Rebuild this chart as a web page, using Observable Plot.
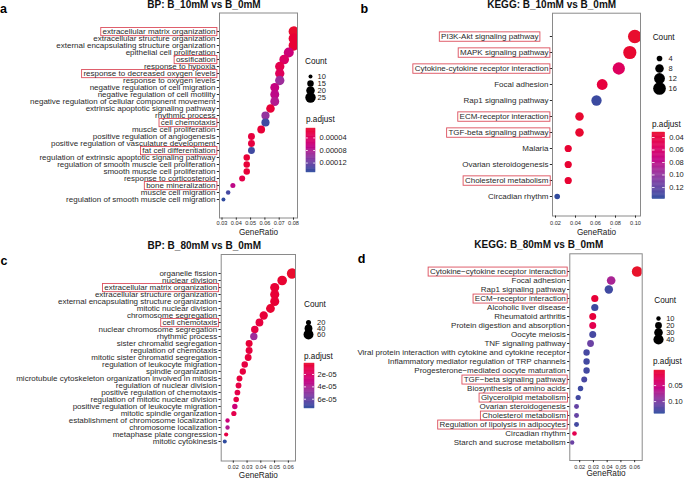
<!DOCTYPE html>
<html><head><meta charset="utf-8">
<script src="https://cdn.jsdelivr.net/npm/d3@7"></script>
<script src="https://cdn.jsdelivr.net/npm/@observablehq/plot@0.6"></script>
<style>
html,body{margin:0;padding:0;background:#fff;}
#fig{position:relative;width:685px;height:480px;overflow:hidden;font-family:"Liberation Sans",Arial,Helvetica,sans-serif;color:#111;background:#fff;}
.t{position:absolute;white-space:nowrap;line-height:1;}
</style></head><body><div id="fig"></div><script>
// ================= DATA =================
// Panel a: BP B_10mM vs B_0mM
const aTitle = "BP: B_10mM vs B_0mM";
const aTerms = ["extracellular matrix organization","extracellular structure organization","external encapsulating structure organization","epithelial cell proliferation","ossification","response to hypoxia","response to decreased oxygen levels","response to oxygen levels","negative regulation of cell migration","negative regulation of cell motility","negative regulation of cellular component movement","extrinsic apoptotic signaling pathway","rhythmic process","cell chemotaxis","muscle cell proliferation","positive regulation of angiogenesis","positive regulation of vasculature development","fat cell differentiation","regulation of extrinsic apoptotic signaling pathway","regulation of smooth muscle cell proliferation","smooth muscle cell proliferation","response to corticosteroid","bone mineralization","muscle cell migration","regulation of smooth muscle cell migration"];
const aRatio = [0.0802,0.0802,0.0802,0.0767,0.0735,0.0704,0.0704,0.0704,0.0669,0.0669,0.0669,0.0639,0.0604,0.0604,0.0574,0.0506,0.0506,0.0506,0.0473,0.0473,0.0473,0.0441,0.0376,0.0343,0.0310];
const aCount = [25,25,25,24,23,22,22,22,21,21,21,20,19,19,18,16,16,16,15,15,15,14,12,11,10];
const aPadj = [1.2e-5,1.5e-5,1.5e-5,6.0e-5,4.5e-5,3.0e-5,3.8e-5,9.4e-5,6.6e-5,7.3e-5,8.0e-5,1.7e-5,1.0e-4,1.43e-4,1.7e-5,2.1e-5,2.1e-5,1.43e-4,1.7e-5,1.7e-5,1.8e-5,2.7e-5,7.3e-5,1.4e-4,1.5e-4];
const aBoxed = ["extracellular matrix organization","ossification","response to decreased oxygen levels","cell chemotaxis","fat cell differentiation","bone mineralization"];
const aXTicks = [0.03,0.04,0.05,0.06,0.07,0.08];
const aSizeBreaks = [10,15,20,25];
const aColorBreaks = [4e-5,8e-5,1.2e-4];
const aColorLabels = ["0.00004","0.00008","0.00012"];

// Panel b: KEGG B_10mM vs B_0mM
const bTitle = "KEGG: B_10mM vs B_0mM";
const bTerms = ["PI3K-Akt signaling pathway","MAPK signaling pathway","Cytokine-cytokine receptor interaction","Focal adhesion","Rap1 signaling pathway","ECM-receptor interaction","TGF-beta signaling pathway","Malaria","Ovarian steroidogenesis","Cholesterol metabolism","Circadian rhythm"];
const bRatio = [0.0993,0.0943,0.0833,0.0667,0.0610,0.0440,0.0440,0.0327,0.0327,0.0327,0.0217];
const bCount = [18,17,15,12,11,8,8,6,6,6,4];
const bPadj = [0.033,0.034,0.055,0.040,0.135,0.034,0.034,0.035,0.035,0.035,0.138];
const bBoxed = ["PI3K-Akt signaling pathway","MAPK signaling pathway","Cytokine-cytokine receptor interaction","ECM-receptor interaction","TGF-beta signaling pathway","Cholesterol metabolism"];
const bXTicks = [0.02,0.04,0.06,0.08,0.10];
const bSizeBreaks = [4,8,12,16];
const bColorBreaks = [0.04,0.06,0.08,0.10,0.12];
const bColorLabels = ["0.04","0.06","0.08","0.10","0.12"];

// Panel c: BP B_80mM vs B_0mM
const cTitle = "BP: B_80mM vs B_0mM";
const cTerms = ["organelle fission","nuclear division","extracellular matrix organization","extracellular structure organization","external encapsulating structure organization","mitotic nuclear division","chromosome segregation","cell chemotaxis","nuclear chromosome segregation","rhythmic process","sister chromatid segregation","regulation of chemotaxis","mitotic sister chromatid segregation","regulation of leukocyte migration","spindle organization","microtubule cytoskeleton organization involved in mitosis","regulation of nuclear division","positive regulation of chemotaxis","regulation of mitotic nuclear division","positive regulation of leukocyte migration","mitotic spindle organization","establishment of chromosome localization","chromosome localization","metaphase plate congression","mitotic cytokinesis"];
const cRatio = [0.0627,0.0555,0.0501,0.0501,0.0501,0.0470,0.0421,0.0390,0.0356,0.0349,0.0315,0.0315,0.0308,0.0283,0.0269,0.0245,0.0238,0.0230,0.0221,0.0211,0.0204,0.0158,0.0158,0.0148,0.0138];
const cCount = [65,57,52,52,52,49,44,40,37,36,33,33,32,29,28,25,25,24,23,22,21,16,16,15,14];
const cPadj = [3e-6,4e-6,5e-6,5e-6,5e-6,4e-6,6e-6,8e-6,9e-6,4.6e-5,6e-6,8e-6,7e-6,9e-6,8e-6,7e-6,1e-5,1.1e-5,1e-5,2.8e-5,1.2e-5,2.8e-5,3.9e-5,9.5e-6,7.5e-5];
const cBoxed = ["extracellular matrix organization","cell chemotaxis"];
const cXTicks = [0.02,0.03,0.04,0.05,0.06];
const cSizeBreaks = [20,40,60];
const cColorBreaks = [2e-5,4e-5,6e-5];
const cColorLabels = ["2e-05","4e-05","6e-05"];

// Panel d: KEGG B_80mM vs B_0mM
const dTitle = "KEGG: B_80mM vs B_0mM";
const dTerms = ["Cytokine\u2212cytokine receptor interaction","Focal adhesion","Rap1 signaling pathway","ECM\u2212receptor interaction","Alcoholic liver disease","Rheumatoid arthritis","Protein digestion and absorption","Oocyte meiosis","TNF signaling pathway","Viral protein interaction with cytokine and cytokine receptor","Inflammatory mediator regulation of TRP channels","Progesterone\u2212mediated oocyte maturation","TGF\u2212beta signaling pathway","Biosynthesis of amino acids","Glycerolipid metabolism","Ovarian steroidogenesis","Cholesterol metabolism","Regulation of lipolysis in adipocytes","Circadian rhythm","Starch and sucrose metabolism"];
const dRatio = [0.0618,0.0429,0.0412,0.0310,0.0310,0.0295,0.0295,0.0295,0.0279,0.0250,0.0250,0.0250,0.0233,0.0206,0.0189,0.0177,0.0177,0.0177,0.0162,0.0145];
const dCount = [43,30,29,22,22,21,21,21,20,18,18,18,16,14,13,12,12,12,11,10];
const dPadj = [0.003,0.077,0.131,0.010,0.132,0.012,0.023,0.128,0.111,0.128,0.130,0.130,0.127,0.132,0.130,0.114,0.114,0.130,0.023,0.111];
const dBoxed = ["Cytokine\u2212cytokine receptor interaction","ECM\u2212receptor interaction","TGF\u2212beta signaling pathway","Glycerolipid metabolism","Cholesterol metabolism","Regulation of lipolysis in adipocytes"];
const dXTicks = [0.02,0.03,0.04,0.05,0.06];
const dSizeBreaks = [10,20,30,40];
const dColorBreaks = [0.05,0.10];
const dColorLabels = ["0.05","0.10"];

// ================= LAYOUT / STYLE =================
const FONT = '"Liberation Sans", Arial, Helvetica, sans-serif';
const RED = "#E8132B", BLUE = "#2F4B9E";
const BOX = "#DC4E5C";

const LA = {letter:"a", plot:{left:0,top:0,w:300,h:240}, frame:[219,12.5,297,217.5], rows:[16.7,213.3],
  xDomain:[0.02825,0.0828], rDomain:[10,25], rRange:[2,5.2], cDomain:[1.0e-5,1.5e-4], tickPad:1.2, genY:232,
  title:[204,4.8], letterPos:[3.5,8.5], count:{x:305,y:62,dotX:310,rows:[71.7,100.7],labX:317},
  padj:{x:306,y:120,bar:[306,128,315,172],labX:319}, boxH:8.2};
const LB = {letter:"b", plot:{left:390,top:0,w:255,h:240}, frame:[552,12.7,640,215.5], rows:[23,208.5],
  xDomain:[0.017,0.105], rDomain:[4,18], rRange:[2.8,6.8], cDomain:[0.032,0.1386], tickPad:2.5, genY:232,
  title:[551.7,4.8], letterPos:[364.3,8.5], count:{x:652.7,y:37.7,dotX:659,rows:[51.7,94.3],labX:668},
  padj:{x:652,y:125,bar:[652.3,131.7,665,198.3],labX:669}, boxH:9.4, shift:{"PI3K-Akt signaling pathway":-10}};
const LC = {letter:"c", plot:{left:0,top:240,w:300,h:240}, frame:[220.7,254,295,460.5], rows:[258.3,456],
  xDomain:[0.0112,0.0652], rDomain:[14,65], rRange:[2,5.2], cDomain:[2.2e-6,7.5e-5], tickPad:2.3, genY:475.3,
  title:[204.3,246.2], letterPos:[4,260.7], count:{x:304,y:305,dotX:308,rows:[319,337.7],labX:316.5},
  padj:{x:304,y:357.3,bar:[304,363.3,314,408.3],labX:317}, boxH:8.2};
const LD = {letter:"d", plot:{left:340,top:240,w:305,h:240}, frame:[569.3,253.3,641.7,460], rows:[259.3,453.7],
  xDomain:[0.0128,0.0655], rDomain:[10,43], rRange:[2.2,5.3], cDomain:[0.003,0.138], tickPad:2.8, genY:473.3,
  title:[538.8,244.8], letterPos:[361.7,259.3], count:{x:654.3,y:301,dotX:658.3,rows:[312.7,342.7],labX:666},
  padj:{x:653,y:362.3,bar:[654.3,370,665,413.3],labX:668}, boxH:9};

// ================= DRAWING =================
const fig = document.getElementById("fig");

function place(el, left, top) {
  el.style.position = "absolute";
  el.style.left = left + "px";
  el.style.top = top + "px";
  el.style.overflow = "visible";
  el.style.background = "transparent";
  el.style.maxWidth = "none";
  fig.appendChild(el);
  return el;
}

function label(str, x, y, size, opts = {}) {
  const d = document.createElement("div");
  d.className = "t";
  d.textContent = str;
  d.style.left = x + "px";
  d.style.top = y + "px";
  d.style.fontSize = size + "px";
  d.style.fontWeight = opts.bold ? "bold" : "normal";
  d.style.transform = opts.center ? "translate(-50%,-50%)" : "translate(0,-50%)";
  d.style.color = opts.color || "#1a1a1a";
  fig.appendChild(d);
}

function drawPanel(D, L) {
  const data = D.terms.map((t, i) => ({term: t, ratio: D.ratio[i], count: D.count[i], padj: D.padj[i]}));
  const [fx0, fy0, fx1, fy1] = L.frame;
  const P = L.plot;
  const rOpts = {type: "sqrt", domain: L.rDomain, range: L.rRange};
  const cOpts = {type: "linear", domain: L.cDomain, range: [RED, BLUE], interpolate: d3.interpolateHcl};

  const svg = Plot.plot({
    width: P.w, height: P.h,
    marginLeft: fx0 - P.left, marginRight: P.left + P.w - fx1,
    marginTop: fy0 - P.top, marginBottom: P.top + P.h - fy1,
    style: {fontFamily: FONT, color: "#2a2a2a", background: "transparent", overflow: "visible"},
    x: {domain: L.xDomain},
    y: {type: "point", domain: D.terms, range: [L.rows[0] - P.top, L.rows[1] - P.top]},
    r: rOpts,
    color: cOpts,
    marks: [
      Plot.dot(data, {x: "ratio", y: "term", r: "count", fill: "padj", clip: true}),
      Plot.frame({stroke: "#8a8a8a", strokeWidth: 1}),
      Plot.axisY({ticks: D.terms, tickSize: 2.2, tickPadding: 1.8, fontSize: 8, label: null}),
      Plot.axisX({ticks: D.xTicks, tickFormat: d3.format(".2f"), tickSize: 2.2, tickPadding: L.tickPad, fontSize: 5.6, label: null}),
      Plot.text(["GeneRatio"], {text: d => d, frameAnchor: "bottom", lineAnchor: "middle", dy: L.genY - fy1, fontSize: 8.2, fill: "#1a1a1a"})
    ]
  });
  place(svg, P.left, P.top);

  // highlighted term boxes (and a label nudge)
  svg.querySelectorAll('g[aria-label="y-axis tick label"] text').forEach(t => {
    const s = t.textContent;
    if (L.shift && L.shift[s]) t.setAttribute("x", L.shift[s]);
    if (D.boxed.includes(s)) {
      const b = t.getBBox();
      const cy = b.y + b.height / 2;
      const r = document.createElementNS("http://www.w3.org/2000/svg", "rect");
      r.setAttribute("x", b.x - 1.8);
      r.setAttribute("width", b.width + 3.2);
      r.setAttribute("y", cy - L.boxH / 2);
      r.setAttribute("height", L.boxH);
      r.setAttribute("fill", "none");
      r.setAttribute("stroke", BOX);
      r.setAttribute("stroke-width", "0.9");
      const tr = t.getAttribute("transform");
      if (tr) r.setAttribute("transform", tr);
      t.parentNode.insertBefore(r, t);
    }
  });

  // title & panel letter
  label(D.title, L.title[0], L.title[1], 10, {bold: true, center: true, color: "#111"});
  label(L.letter, L.letterPos[0], L.letterPos[1], 12.5, {bold: true, center: true, color: "#000"});

  // size legend
  const C = L.count;
  label("Count", C.x, C.y, 8.2, {color: "#111"});
  const pad = 9;
  const sz = Plot.plot({
    width: 50, height: C.rows[1] - C.rows[0] + 2 * pad, margin: 0,
    style: {fontFamily: FONT, color: "#1a1a1a", background: "transparent", overflow: "visible"},
    y: {type: "point", domain: D.sizeBreaks, range: [pad, pad + C.rows[1] - C.rows[0]], axis: null},
    r: rOpts,
    marks: [
      Plot.dot(D.sizeBreaks, {y: d => d, r: d => d, fill: "#000", frameAnchor: "left", dx: 10}),
      Plot.text(D.sizeBreaks, {y: d => d, text: d => String(d), frameAnchor: "left", dx: C.labX - (C.dotX - 10), textAnchor: "start", fontSize: 7.5})
    ]
  });
  place(sz, C.dotX - 10, C.rows[0] - pad);

  // colour bar legend
  const Q = L.padj;
  label("p.adjust", Q.x, Q.y, 8.2, {color: "#111"});
  const [bx0, by0, bx1, by1] = Q.bar;
  const bw = bx1 - bx0, bh = by1 - by0;
  const n = 80, [c0, c1] = L.cDomain;
  const steps = d3.range(n).map(i => ({a: c0 + (c1 - c0) * i / n, b: c0 + (c1 - c0) * (i + 1) / n, m: c0 + (c1 - c0) * (i + 0.5) / n}));
  const cb = Plot.plot({
    width: bw + 45, height: bh, margin: 0,
    style: {fontFamily: FONT, color: "#1a1a1a", background: "transparent", overflow: "visible"},
    x: {domain: [0, 1], range: [0, bw], axis: null},
    y: {domain: L.cDomain, range: [0, bh], axis: null},
    color: cOpts,
    marks: [
      Plot.rect(steps, {x1: 0, x2: 1, y1: "a", y2: "b", fill: "m", stroke: "m", strokeWidth: 0.4}),
      Plot.ruleY(D.colorBreaks, {x1: 0, x2: 0.2, stroke: "white", strokeWidth: 0.8}),
      Plot.ruleY(D.colorBreaks, {x1: 0.8, x2: 1, stroke: "white", strokeWidth: 0.8}),
      Plot.text(D.colorBreaks, {y: d => d, text: (d, i) => D.colorLabels[i], frameAnchor: "left", dx: Q.labX - bx0, textAnchor: "start", fontSize: 7.5})
    ]
  });
  place(cb, bx0, by0);
}

drawPanel({title: aTitle, terms: aTerms, ratio: aRatio, count: aCount, padj: aPadj, boxed: aBoxed, xTicks: aXTicks, sizeBreaks: aSizeBreaks, colorBreaks: aColorBreaks, colorLabels: aColorLabels}, LA);
drawPanel({title: bTitle, terms: bTerms, ratio: bRatio, count: bCount, padj: bPadj, boxed: bBoxed, xTicks: bXTicks, sizeBreaks: bSizeBreaks, colorBreaks: bColorBreaks, colorLabels: bColorLabels}, LB);
drawPanel({title: cTitle, terms: cTerms, ratio: cRatio, count: cCount, padj: cPadj, boxed: cBoxed, xTicks: cXTicks, sizeBreaks: cSizeBreaks, colorBreaks: cColorBreaks, colorLabels: cColorLabels}, LC);
drawPanel({title: dTitle, terms: dTerms, ratio: dRatio, count: dCount, padj: dPadj, boxed: dBoxed, xTicks: dXTicks, sizeBreaks: dSizeBreaks, colorBreaks: dColorBreaks, colorLabels: dColorLabels}, LD);
</script></body></html>
